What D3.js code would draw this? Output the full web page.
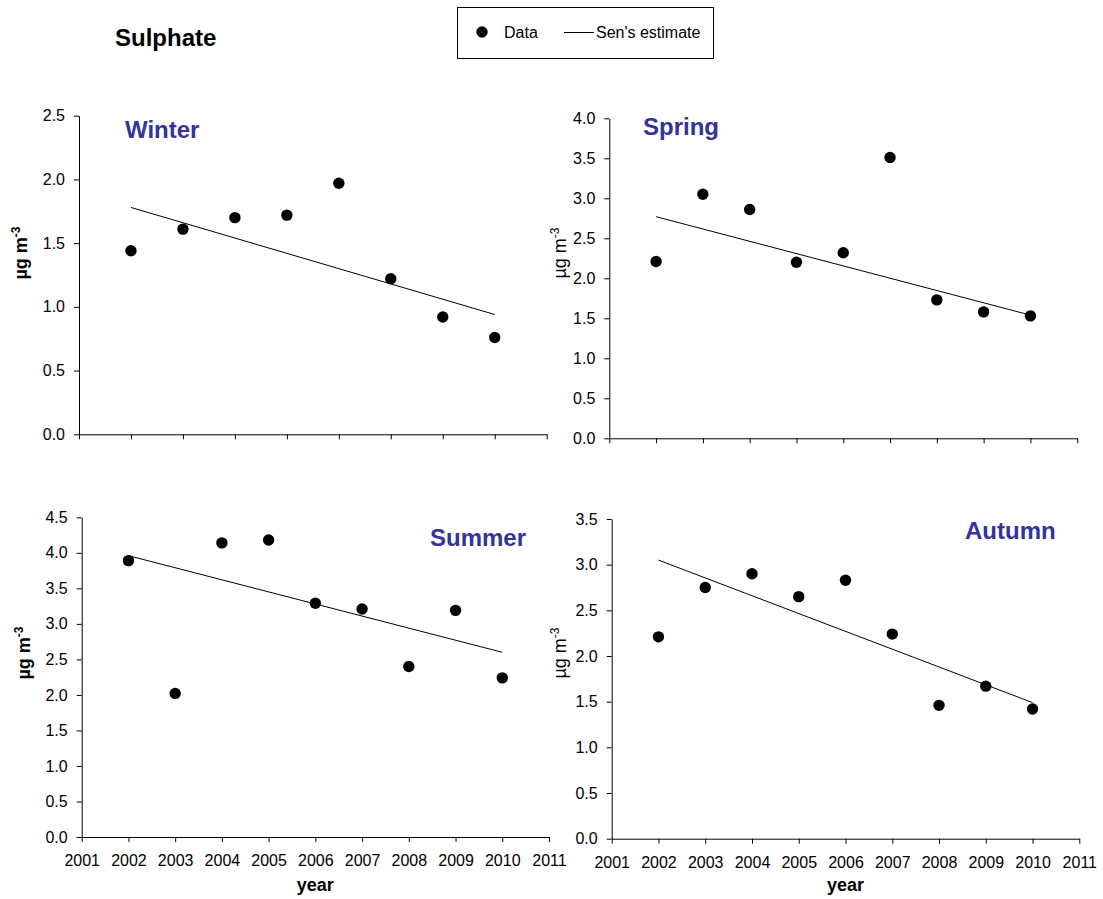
<!DOCTYPE html>
<html>
<head>
<meta charset="utf-8">
<script src="https://cdn.jsdelivr.net/npm/d3@7"></script>
<style>
  body { margin: 0; background: #fff; }
  text { font-family: Arial, "Liberation Sans", sans-serif; }
</style>
</head>
<body>
<svg id="chart" width="1103" height="899"></svg>
<script>
// Seasonal sulphate concentrations (µg m-3) and Sen's slope trend lines
const winterYears = [2002, 2003, 2004, 2005, 2006, 2007, 2008, 2009];
const years = [2002, 2003, 2004, 2005, 2006, 2007, 2008, 2009, 2010];

const winterValues = [1.44, 1.61, 1.70, 1.72, 1.97, 1.22, 0.92, 0.76];
const springValues = [2.21, 3.05, 2.86, 2.20, 2.32, 3.51, 1.73, 1.58, 1.53];
const summerValues = [3.89, 2.02, 4.14, 4.18, 3.29, 3.21, 2.40, 3.19, 2.24];
const autumnValues = [2.21, 2.75, 2.90, 2.65, 2.83, 2.24, 1.46, 1.67, 1.42];

// Sen's estimate at the first and last year of each series
const winterSen = [1.78, 0.94];
const springSen = [2.77, 1.54];
const summerSen = [3.96, 2.60];
const autumnSen = [3.05, 1.49];

const winterXTicks = d3.range(2001, 2011);
const xTicks = d3.range(2001, 2012);
const winterYTicks = [0, 0.5, 1.0, 1.5, 2.0, 2.5];
const springYTicks = [0, 0.5, 1.0, 1.5, 2.0, 2.5, 3.0, 3.5, 4.0];
const summerYTicks = [0, 0.5, 1.0, 1.5, 2.0, 2.5, 3.0, 3.5, 4.0, 4.5];
const autumnYTicks = [0, 0.5, 1.0, 1.5, 2.0, 2.5, 3.0, 3.5];

const seasonColor = "#333399";
const svg = d3.select("#chart");

const panels = [
  { name: "Winter", years: winterYears, values: winterValues, sen: winterSen,
    xTicks: winterXTicks, yTicks: winterYTicks, yearLabels: false,
    left: 79, right: 546.7, bottom: 434.3, top: 115.7,
    labelX: 125, labelY: 138, unitX: 27, unitY: 253, unitBold: true },
  { name: "Spring", years: years, values: springValues, sen: springSen,
    xTicks: xTicks, yTicks: springYTicks, yearLabels: false,
    left: 609.3, right: 1077.2, bottom: 438.3, top: 118.3,
    labelX: 643, labelY: 135, unitX: 566, unitY: 253, unitBold: false },
  { name: "Summer", years: years, values: summerValues, sen: summerSen,
    xTicks: xTicks, yTicks: summerYTicks, yearLabels: true,
    left: 81.7, right: 549, bottom: 837, top: 517.3,
    labelX: 430, labelY: 546, unitX: 30, unitY: 653, unitBold: true },
  { name: "Autumn", years: years, values: autumnValues, sen: autumnSen,
    xTicks: xTicks, yTicks: autumnYTicks, yearLabels: true,
    left: 611.7, right: 1079.3, bottom: 838.7, top: 519,
    labelX: 965, labelY: 539, unitX: 566, unitY: 653, unitBold: false }
];

panels.forEach(p => {
  const g = svg.append("g");
  const x = d3.scaleLinear()
    .domain([p.xTicks[0], p.xTicks[p.xTicks.length - 1]])
    .range([p.left, p.right]);
  const y = d3.scaleLinear()
    .domain([0, p.yTicks[p.yTicks.length - 1]])
    .range([p.bottom, p.top]);

  const xAxis = g.append("g")
    .attr("transform", `translate(0,${p.bottom})`)
    .call(d3.axisBottom(x)
      .tickValues(p.xTicks)
      .tickSize(5)
      .tickSizeOuter(0)
      .tickPadding(13)
      .tickFormat(p.yearLabels ? d3.format("d") : () => ""));

  const yAxis = g.append("g")
    .attr("transform", `translate(${p.left},0)`)
    .call(d3.axisLeft(y)
      .tickValues(p.yTicks)
      .tickSize(5)
      .tickSizeOuter(0)
      .tickPadding(9)
      .tickFormat(d3.format(".1f")));

  [xAxis, yAxis].forEach(a => {
    a.attr("font-size", 16).attr("font-family", "Arial, 'Liberation Sans', sans-serif");
    a.selectAll("path, line").attr("stroke", "#000").attr("stroke-width", 1);
    a.selectAll("text").attr("fill", "#000");
  });

  // Sen's estimate trend line
  const firstYear = p.years[0];
  const lastYear = p.years[p.years.length - 1];
  const line = d3.line().x(d => x(d[0])).y(d => y(d[1]));
  g.append("path")
    .attr("d", line([[firstYear, p.sen[0]], [lastYear, p.sen[1]]]))
    .attr("fill", "none")
    .attr("stroke", "#000")
    .attr("stroke-width", 1);

  // Data points
  g.selectAll("circle.pt")
    .data(p.years.map((yr, i) => [yr, p.values[i]]))
    .join("circle")
    .attr("class", "pt")
    .attr("cx", d => x(d[0]))
    .attr("cy", d => y(d[1]))
    .attr("r", 5.7)
    .attr("fill", "#000");

  // Season name
  g.append("text")
    .attr("x", p.labelX)
    .attr("y", p.labelY)
    .attr("font-size", 24)
    .attr("font-weight", "bold")
    .attr("fill", seasonColor)
    .text(p.name);

  // Unit label
  const unit = g.append("text")
    .attr("transform", `translate(${p.unitX},${p.unitY}) rotate(-90)`)
    .attr("text-anchor", "middle")
    .attr("font-size", 18)
    .attr("font-weight", p.unitBold ? "bold" : "normal")
    .attr("fill", "#000");
  unit.append("tspan").text("µg m");
  unit.append("tspan").attr("font-size", 12).attr("dy", -7).text("-3");

  if (p.yearLabels) {
    g.append("text")
      .attr("x", (p.left + p.right) / 2)
      .attr("y", 891)
      .attr("text-anchor", "middle")
      .attr("font-size", 18)
      .attr("font-weight", "bold")
      .attr("fill", "#000")
      .text("year");
  }
});

// Title
svg.append("text")
  .attr("x", 115)
  .attr("y", 46)
  .attr("font-size", 24)
  .attr("font-weight", "bold")
  .attr("fill", "#000")
  .text("Sulphate");

// Legend
const legend = svg.append("g");
legend.append("rect")
  .attr("x", 457.5).attr("y", 7.5)
  .attr("width", 256).attr("height", 51)
  .attr("fill", "#fff").attr("stroke", "#000").attr("stroke-width", 1);
legend.append("circle")
  .attr("cx", 482).attr("cy", 32).attr("r", 5.7).attr("fill", "#000");
legend.append("text")
  .attr("x", 504).attr("y", 38)
  .attr("font-size", 16).attr("fill", "#000")
  .text("Data");
legend.append("line")
  .attr("x1", 564).attr("x2", 594).attr("y1", 32.5).attr("y2", 32.5)
  .attr("stroke", "#000").attr("stroke-width", 1);
legend.append("text")
  .attr("x", 596).attr("y", 38)
  .attr("font-size", 16).attr("fill", "#000")
  .text("Sen's estimate");
</script>
</body>
</html>
